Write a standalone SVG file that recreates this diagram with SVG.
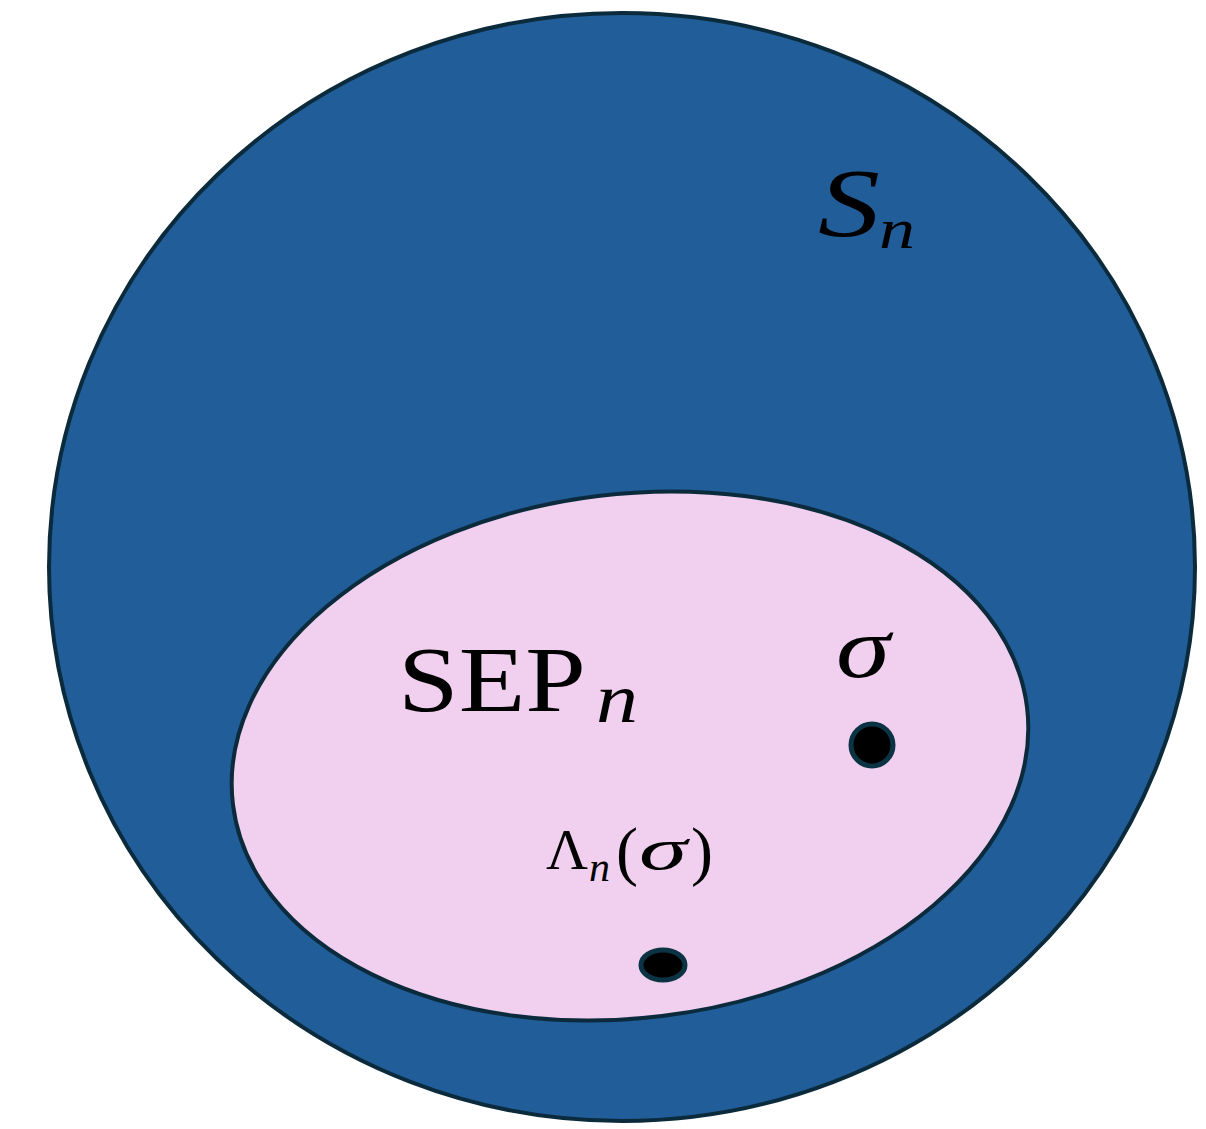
<svg xmlns="http://www.w3.org/2000/svg" width="1206" height="1129" viewBox="0 0 1206 1129">
<style>
.m{font-family:"Liberation Serif","DejaVu Serif",serif;fill:#000}
.i{font-style:italic}
.dot{fill:#000;stroke:#0c3344;stroke-width:5}
</style>
<rect width="1206" height="1129" fill="#fff"/>
<g id="outer">
<ellipse cx="622" cy="567" rx="573" ry="554" fill="#215e99" stroke="#0b2a3c" stroke-width="4"/>
<text class="m i" x="818" y="236" font-size="98" textLength="62" lengthAdjust="spacingAndGlyphs">S</text>
<text class="m i" x="879" y="248" font-size="56" textLength="36" lengthAdjust="spacingAndGlyphs">n</text>
</g>
<g id="inner">
<ellipse cx="630" cy="756" rx="400" ry="262" transform="rotate(-7 630 756)" fill="#f1cfee" stroke="#0b2a3c" stroke-width="4"/>
<text class="m" x="398" y="711" font-size="94" textLength="188" lengthAdjust="spacingAndGlyphs">SEP</text>
<text class="m i" x="596" y="722" font-size="70" textLength="42" lengthAdjust="spacingAndGlyphs">n</text>
</g>
<g id="sigma">
<text class="m i" x="836" y="677" font-size="86" textLength="54" lengthAdjust="spacingAndGlyphs">σ</text>
<circle class="dot" cx="872" cy="745" r="21"/>
</g>
<g id="lambda">
<text class="m" x="546" y="869" font-size="58">Λ</text>
<text class="m i" x="589" y="881" font-size="42">n</text>
<text class="m" x="616" y="873" font-size="66">(</text>
<text class="m i" x="639" y="869" font-size="60" textLength="48" lengthAdjust="spacingAndGlyphs">σ</text>
<text class="m" x="691" y="873" font-size="66">)</text>
<ellipse class="dot" cx="663" cy="965" rx="22" ry="15"/>
</g>
</svg>
